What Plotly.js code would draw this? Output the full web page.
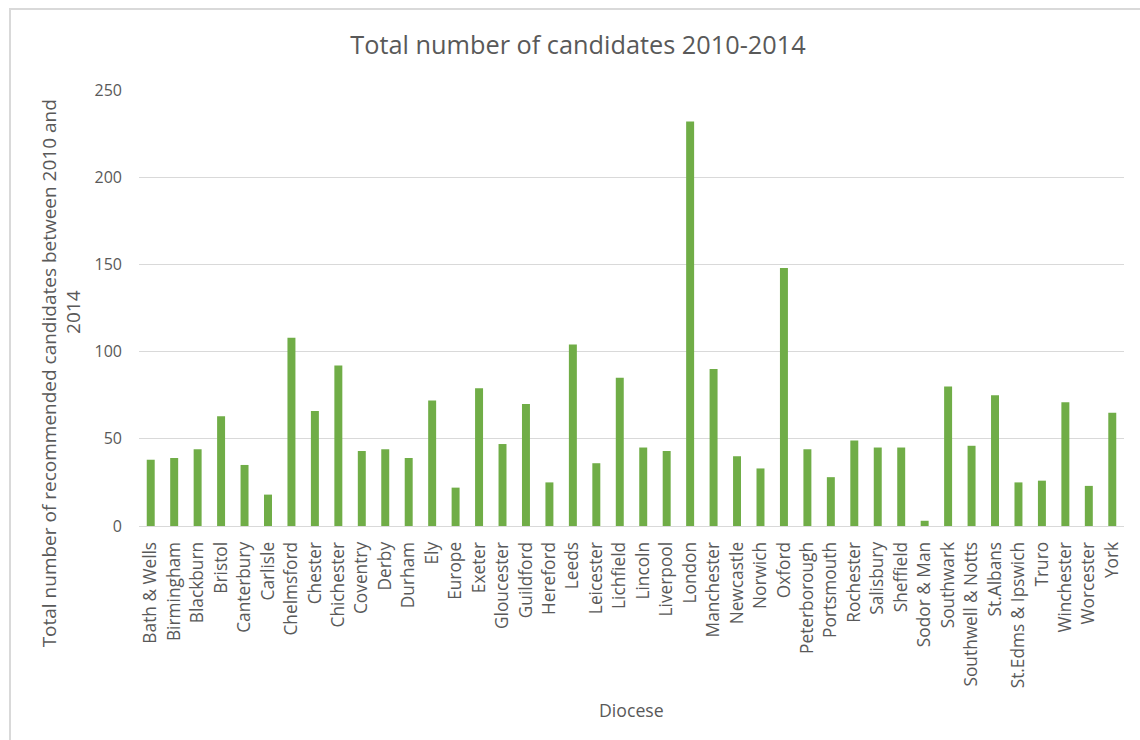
<!DOCTYPE html>
<html>
<head>
<meta charset="utf-8">
<script src="https://cdn.plot.ly/plotly-3.0.1.min.js"></script>
<style>
  html, body { margin: 0; padding: 0; background: #fff; }
  #wrap { position: relative; width: 1140px; height: 740px; }
  #chart { position: absolute; left: 0; top: 0; width: 1140px; height: 740px; }
  #frame { position: absolute; left: 9px; top: 8px; width: 1140px; height: 740px;
           border-left: 2px solid #d9d9d9; border-top: 2px solid #d9d9d9; pointer-events: none; }
</style>
</head>
<body>
<div id="wrap">
  <div id="chart"></div>
  <div id="frame"></div>
</div>
<script>
const dioceses = [
  "Bath & Wells", "Birmingham", "Blackburn", "Bristol", "Canterbury", "Carlisle",
  "Chelmsford", "Chester", "Chichester", "Coventry", "Derby", "Durham", "Ely",
  "Europe", "Exeter", "Gloucester", "Guildford", "Hereford", "Leeds", "Leicester",
  "Lichfield", "Lincoln", "Liverpool", "London", "Manchester", "Newcastle",
  "Norwich", "Oxford", "Peterborough", "Portsmouth", "Rochester", "Salisbury",
  "Sheffield", "Sodor & Man", "Southwark", "Southwell & Notts", "St.Albans",
  "St.Edms & Ipswich", "Truro", "Winchester", "Worcester", "York"
];
const candidates = [
  38, 39, 44, 63, 35, 18,
  108, 66, 92, 43, 44, 39, 72,
  22, 79, 47, 70, 25, 104, 36,
  85, 45, 43, 232, 90, 40,
  33, 148, 44, 28, 49, 45,
  45, 3, 80, 46, 75,
  25, 26, 71, 23, 65
];
const yTicks = [0, 50, 100, 150, 200, 250];
const yTitleLines = ["Total number of recommended candidates between 2010 and", "2014"];

const FONT = "Open Sans, sans-serif";
const GREY = "#595959";

const trace = {
  type: "bar",
  x: dioceses,
  y: candidates,
  marker: { color: "#70ad47" },
  hoverinfo: "x+y"
};

const layout = {
  width: 1140,
  height: 740,
  margin: { l: 139, r: 16, t: 90, b: 214, pad: 0 },
  paper_bgcolor: "#ffffff",
  plot_bgcolor: "#ffffff",
  bargap: 0.66,
  showlegend: false,
  font: { family: FONT, color: GREY, size: 16 },
  title: {
    text: "Total number of candidates 2010-2014",
    font: { family: FONT, size: 25.3, color: GREY },
    x: 0.4457, xref: "paper", xanchor: "center",
    y: 0.939, yref: "container", yanchor: "middle"
  },
  xaxis: {
    type: "category",
    tickangle: -90,
    tickfont: { family: FONT, size: 17.3, color: GREY },
    showgrid: false,
    showline: true,
    linecolor: "#d9d9d9",
    linewidth: 1,
    ticks: "",
    ticklabelstandoff: 8,
    fixedrange: true,
    automargin: false
  },
  yaxis: {
    range: [0, 250],
    tickvals: yTicks,
    ticktext: yTicks.map(String),
    tickfont: { family: FONT, size: 16, color: GREY },
    showgrid: true,
    gridcolor: "#d9d9d9",
    gridwidth: 1,
    zeroline: false,
    showline: false,
    ticks: "",
    ticklabelstandoff: 16,
    fixedrange: true,
    automargin: false
  },
  annotations: [
    {
      text: yTitleLines[0],
      xref: "paper", yref: "paper",
      x: -0.0914, y: 0.35,
      xanchor: "center", yanchor: "middle",
      textangle: -90,
      showarrow: false,
      font: { family: FONT, size: 19, color: GREY }
    },
    {
      text: yTitleLines[1],
      xref: "paper", yref: "paper",
      x: -0.067, y: 0.491,
      xanchor: "center", yanchor: "middle",
      textangle: -90,
      showarrow: false,
      font: { family: FONT, size: 19, color: GREY }
    },
    {
      text: "Diocese",
      xref: "paper", yref: "paper",
      x: 0.5, y: -0.422,
      xanchor: "center", yanchor: "middle",
      showarrow: false,
      font: { family: FONT, size: 17.7, color: GREY }
    }
  ]
};

Plotly.newPlot("chart", [trace], layout, { displayModeBar: false, staticPlot: true });
</script>
</body>
</html>
